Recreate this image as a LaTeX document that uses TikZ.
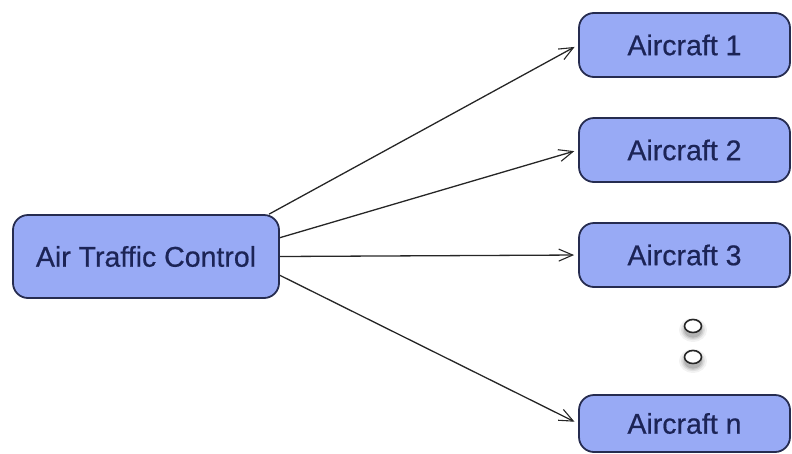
\documentclass[tikz,border=0pt]{standalone}
\usepackage{fontspec}
\setmainfont{Liberation Sans}
\newfontfamily\boxfont{Liberation Sans}[FakeBold=0.6]
\usetikzlibrary{arrows.meta,shapes.geometric}
\definecolor{boxfill}{RGB}{152,170,245}
\definecolor{boxline}{RGB}{38,44,80}
\definecolor{txt}{RGB}{28,36,86}
\tikzset{
  box/.style={draw=boxline, line width=1.8pt, fill=boxfill, rounded corners=15pt,
    text=txt, font=\boxfont\fontsize{28.5}{32}\selectfont, inner sep=0pt},
  conn/.style={draw=black!85, line width=1.3pt, -{Straight Barb[length=14pt,width=12pt,line width=1.1pt]}, shorten >=4pt},
  dot/.style={draw=black!85, line width=1.6pt, fill=white, ellipse, inner sep=0pt}
}
\begin{document}
\begin{tikzpicture}[x=1pt,y=-1pt]
\useasboundingbox (0,0) rectangle (792,453);
\node[box, minimum width=266pt, minimum height=83pt] (atc) at (146,256.5) {Air Traffic Control};
\node[box, minimum width=211pt, minimum height=64pt] (a1) at (684.5,45) {Aircraft 1};
\node[box, minimum width=211pt, minimum height=64pt] (a2) at (684.5,150) {Aircraft 2};
\node[box, minimum width=211pt, minimum height=64pt] (a3) at (684.5,255) {Aircraft 3};
\node[box, minimum width=211pt, minimum height=57pt] (an) at (684.5,423.5) {Aircraft n};
% dots with soft shadow
\foreach \cy/\nm in {326/d1,357/d2}{
  \foreach \r/\op in {14/0.05,12/0.07,10.5/0.09,9/0.12}{
    \fill[black, opacity=\op] (693,\cy+4) ellipse ({\r} and {\r*0.85});
  }
  \node[dot, minimum width=17pt, minimum height=13pt] (\nm) at (693,\cy) {};
}
\draw[conn] (atc.19.5) -- (a1.west);
\draw[conn] (atc.8.3) -- (a2.west);
\draw[conn] (atc.east) -- (a3.west);
\draw[conn] (atc.-8.8) -- (an.west);
\end{tikzpicture}
\end{document}
